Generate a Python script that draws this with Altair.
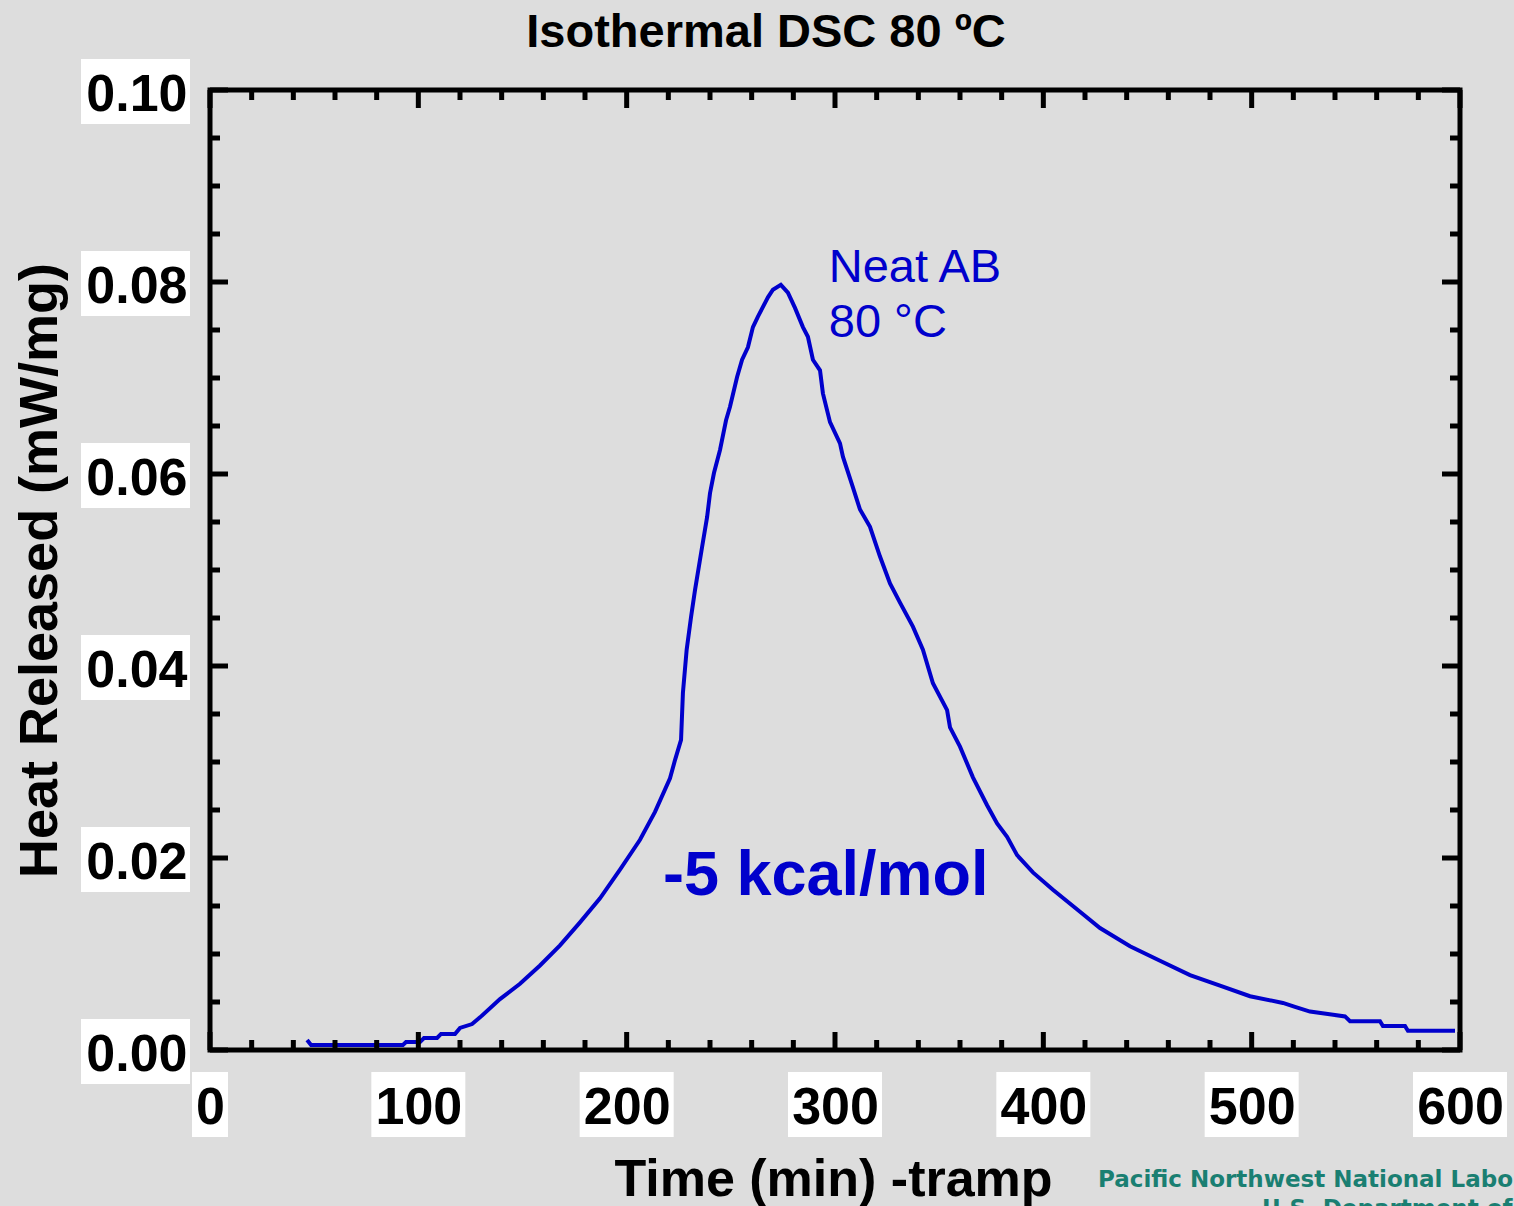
import altair as alt
import pandas as pd

# ---- data ----
time_min = [46.6, 48.5, 92.6, 94.1, 100.8, 102.7, 109.0, 110.9, 117.6, 120.0, 125.8, 129.6,
            139.2, 148.8, 158.4, 168.0, 177.6, 187.2, 196.8, 206.4, 213.6, 220.8, 223.2, 226.1,
            227.0, 228.8, 230.9, 232.8, 236.2, 238.6, 240.0, 241.9, 244.8, 247.7, 249.6, 253.0,
            255.4, 258.2, 260.6, 263.0, 267.8, 270.2, 274.0, 277.4, 280.8, 284.6, 287.0, 289.4,
            292.8, 294.2, 297.6, 302.4, 303.8, 308.6, 312.0, 316.8, 321.6, 326.4, 331.2, 337.4,
            342.2, 347.0, 353.8, 355.2, 360.0, 366.2, 373.0, 377.8, 382.6, 387.4, 395.0, 404.6,
            417.6, 427.2, 441.6, 456.0, 470.4, 484.8, 499.2, 515.0, 520.8, 528.0, 544.8, 547.2,
            561.6, 563.0, 573.6, 575.0, 597.6]
heat = [0.00104, 0.00052, 0.00052, 0.00083, 0.00083, 0.00125, 0.00125, 0.00167, 0.00167, 0.0023,
        0.0027, 0.0034, 0.0053, 0.0069, 0.0088, 0.0109, 0.0133, 0.0158, 0.0188, 0.0219, 0.0248,
        0.0283, 0.0302, 0.0323, 0.0372, 0.0417, 0.0451, 0.0479, 0.0524, 0.0555, 0.0580, 0.0601,
        0.0625, 0.0656, 0.0670, 0.0701, 0.0719, 0.0732, 0.0753, 0.0764, 0.0784, 0.0792, 0.0797,
        0.0789, 0.0773, 0.0753, 0.0743, 0.0719, 0.0708, 0.0684, 0.0654, 0.0632, 0.0618, 0.0586,
        0.0563, 0.0545, 0.0514, 0.0486, 0.0466, 0.0441, 0.0417, 0.0382, 0.0354, 0.0336, 0.0316,
        0.0284, 0.0255, 0.0236, 0.0222, 0.0203, 0.0185, 0.0167, 0.0144, 0.0127, 0.0108, 0.0093,
        0.0078, 0.0067, 0.0056, 0.0049, 0.0045, 0.0040, 0.0035, 0.0030, 0.0030, 0.0025, 0.0025,
        0.0020, 0.0020]

x_major = [0, 100, 200, 300, 400, 500, 600]
x_minor = [20, 40, 60, 80, 120, 140, 160, 180, 220, 240, 260, 280, 320, 340, 360, 380,
           420, 440, 460, 480, 520, 540, 560, 580]
y_major = [0.0, 0.02, 0.04, 0.06, 0.08, 0.10]
y_minor = [0.005, 0.01, 0.015, 0.025, 0.03, 0.035, 0.045, 0.05, 0.055, 0.065, 0.07, 0.075,
           0.085, 0.09, 0.095]

notes_x = [297.0, 297.0]
notes_y = [0.0800, 0.0743]
notes_text = ["Neat AB", "80 °C"]

energy_x = [217.4]
energy_y = [0.0161]
energy_text = ["-5 kcal/mol"]

logo_text = ["Pacific Northwest National Laboratory", "U.S. Department of Energy"]

TITLE = "Isothermal DSC 80 ºC"
X_TITLE = "Time (min) -tramp"
Y_TITLE = "Heat Released (mW/mg)"

W, H = 1250, 960
FONT = "Liberation Sans"
BLUE = "#0000cc"
BG = "#dddddd"

xs = alt.Scale(domain=[0, 600], nice=False, zero=False)
ys = alt.Scale(domain=[0, 0.1], nice=False, zero=False)

curve = pd.DataFrame({"t": time_min, "q": heat})
xmaj = pd.DataFrame({"t": x_major, "lbl": [str(v) for v in x_major]})
xmaj["n"] = xmaj["lbl"].str.len()
xmin = pd.DataFrame({"t": x_minor})
ymaj = pd.DataFrame({"q": y_major})
ymin = pd.DataFrame({"q": y_minor})

line = alt.Chart(curve).mark_line(color=BLUE, strokeWidth=4).encode(
    x=alt.X("t:Q", scale=xs, title=X_TITLE,
            axis=alt.Axis(values=x_major, format="d", ticks=False, tickSize=0, domain=False,
                          grid=False, labelFont=FONT, labelFontSize=52, labelFontWeight="bold",
                          labelColor="black", labelBaseline="top", labelPadding=32,
                          labelFlush=False, labelOverlap=False, zindex=2,
                          titleFont=FONT, titleFontSize=52, titleFontWeight="bold",
                          titleColor="black", titleBaseline="alphabetic", titleY=145,
                          titleX=623)),
    y=alt.Y("q:Q", scale=ys, title=Y_TITLE,
            axis=alt.Axis(values=y_major, format=".2f", ticks=False, tickSize=0, domain=False,
                          grid=False, labelFont=FONT, labelFontSize=52, labelFontWeight="bold",
                          labelColor="black", labelBaseline="middle", labelPadding=23,
                          labelOffset=4, labelFlush=False, labelOverlap=False, zindex=2,
                          titleFont=FONT, titleFontSize=54, titleFontWeight="bold",
                          titleColor="black", titleBaseline="alphabetic", titleX=-154,
                          titleAngle=270)),
)

def xticks(df, length):
    bottom = alt.Chart(df).mark_rule(color="black", strokeWidth=5).encode(
        x=alt.X("t:Q", scale=xs), y=alt.value(H), y2=alt.value(H - length))
    top = alt.Chart(df).mark_rule(color="black", strokeWidth=5).encode(
        x=alt.X("t:Q", scale=xs), y=alt.value(0), y2=alt.value(length))
    return [bottom, top]

def yticks(df, length):
    left = alt.Chart(df).mark_rule(color="black", strokeWidth=5).encode(
        y=alt.Y("q:Q", scale=ys), x=alt.value(0), x2=alt.value(length))
    right = alt.Chart(df).mark_rule(color="black", strokeWidth=5).encode(
        y=alt.Y("q:Q", scale=ys), x=alt.value(W), x2=alt.value(W - length))
    return [left, right]

ticks = xticks(xmin, 10) + xticks(xmaj[["t"]], 18) + yticks(ymin, 10) + yticks(ymaj, 18)

# white label boxes behind tick labels
xbox_wide = alt.Chart(xmaj).transform_filter("datum.n > 1").mark_rect(
    color="white", xOffset=-47, x2Offset=47).encode(
    x=alt.X("t:Q", scale=xs), x2="t:Q", y=alt.value(H + 22), y2=alt.value(H + 87))
xbox_narrow = alt.Chart(xmaj).transform_filter("datum.n == 1").mark_rect(
    color="white", xOffset=-18, x2Offset=18).encode(
    x=alt.X("t:Q", scale=xs), x2="t:Q", y=alt.value(H + 22), y2=alt.value(H + 87))
ybox = alt.Chart(ymaj).mark_rect(color="white", yOffset=-31, y2Offset=34).encode(
    y=alt.Y("q:Q", scale=ys), y2="q:Q", x=alt.value(-129), x2=alt.value(-20))

notes = alt.Chart(pd.DataFrame({"x": notes_x, "y": notes_y, "s": notes_text})).mark_text(
    align="left", baseline="alphabetic", font=FONT, fontSize=47, color=BLUE).encode(
    x=alt.X("x:Q", scale=xs), y=alt.Y("y:Q", scale=ys), text="s:N")

energy = alt.Chart(pd.DataFrame({"x": energy_x, "y": energy_y, "s": energy_text})).mark_text(
    align="left", baseline="alphabetic", font=FONT, fontSize=63, fontWeight="bold",
    color=BLUE).encode(
    x=alt.X("x:Q", scale=xs), y=alt.Y("y:Q", scale=ys), text="s:N")

logo = alt.Chart(pd.DataFrame({"s": logo_text,
                               "px": [888, 1052], "py": [1097, 1126]})).mark_text(
    align="left", baseline="alphabetic", font="DejaVu Sans", fontSize=23, fontWeight="bold",
    color="#1a7f72").encode(x=alt.X("px:Q", scale=None), y=alt.Y("py:Q", scale=None),
                            text="s:N")

chart = alt.layer(
    xbox_wide, xbox_narrow, ybox, line, *ticks, notes, energy, logo
).properties(
    width=W, height=H,
    title=alt.TitleParams(TITLE, font=FONT, fontSize=47, fontWeight="bold", color="black",
                          anchor="middle", dx=-69, dy=10, offset=12),
    autosize=alt.AutoSizeParams(type="none"),
    padding={"left": 210, "top": 90, "right": 54, "bottom": 156},
).configure(background=BG).configure_view(stroke="black", strokeWidth=5, fill=BG)

chart.save("out.html", embed_options={"renderer": "svg", "actions": False})
